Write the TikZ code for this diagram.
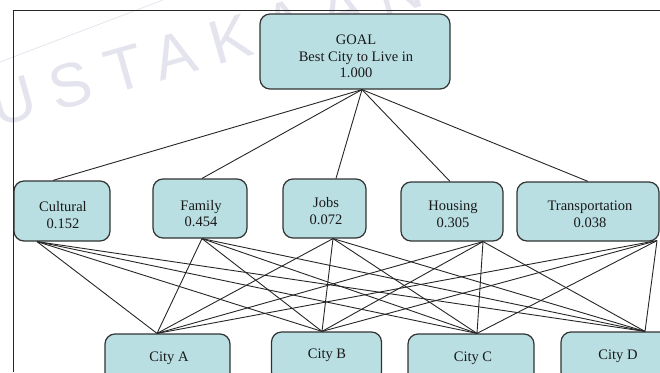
\documentclass[tikz,border=0pt]{standalone}
\usepackage{fontspec}
\setmainfont{Liberation Serif}
\newfontfamily\wmfont[LetterSpace=27]{Liberation Sans}
\definecolor{boxfill}{RGB}{185,223,227}
\definecolor{boxline}{RGB}{50,50,50}
\definecolor{wmcol}{RGB}{228,228,238}
\begin{document}
\begin{tikzpicture}[x=1pt,y=-1pt,
  box/.style={draw=boxline, line width=1.2pt, fill=boxfill, rounded corners=10pt, inner sep=0pt},
  lbl/.style={align=center, font=\fontsize{14.5}{16.5}\selectfont, inner sep=0pt, text=black!90},
  link/.style={draw=black!85, line width=0.9pt},
  frameline/.style={draw=black!85, line width=0.9pt}]
\useasboundingbox (0,0) rectangle (660,372);
\clip (0,0) rectangle (660,372);
% watermark
\node[text=wmcol, font=\wmfont\fontsize{62}{62}\selectfont, rotate=16, anchor=base west, inner sep=0pt] (wm) at (-3,128) {USTAKAAN};
\draw[wmcol, line width=0.8pt] (0,62) -- (163,0);
% frame
\draw[frameline] (13,372) -- (13,10) -- (660,10);
% boxes
\node[box, minimum width=190pt, minimum height=75pt] (goal) at (355,51.5) {};
\node[box, minimum width=96pt, minimum height=60pt] (cult) at (62,211) {};
\node[box, minimum width=94pt, minimum height=59pt] (fam) at (200,208.5) {};
\node[box, minimum width=83pt, minimum height=59pt] (jobs) at (324.5,208.5) {};
\node[box, minimum width=102pt, minimum height=59pt] (hous) at (452,211.5) {};
\node[box, minimum width=142pt, minimum height=59pt] (trans) at (588,211.5) {};
\node[box, minimum width=125pt, minimum height=50pt] (cA) at (167.5,359) {};
\node[box, minimum width=110pt, minimum height=50pt] (cB) at (326.5,357) {};
\node[box, minimum width=126pt, minimum height=50pt] (cC) at (471,359) {};
\node[box, minimum width=114pt, minimum height=50pt] (cD) at (618,357) {};
% texts
\node[lbl] (goalt) at (356,56.7) {GOAL\\Best City to Live in\\1.000};
\node[lbl] (cultt) at (63,215.3) {Cultural\\0.152};
\node[lbl] (famt) at (201,213.5) {Family\\0.454};
\node[lbl] (jobst) at (326,211) {Jobs\\0.072};
\node[lbl] (houst) at (453,214.5) {Housing\\0.305};
\node[lbl] (transt) at (590,214.5) {Transportation\\0.038};
\node[lbl] (cAt) at (169,358.7) {City A};
\node[lbl] (cBt) at (327,355) {City B};
\node[lbl] (cCt) at (473,358.3) {City C};
\node[lbl] (cDt) at (618,356) {City D};
% connection points
\coordinate (goal-b) at ([xshift=7pt]goal.south);
\coordinate (cult-t) at ([xshift=-9pt]cult.north);
\coordinate (fam-t) at ([xshift=2pt]fam.north);
\coordinate (jobs-t) at ([xshift=11.5pt]jobs.north);
\coordinate (hous-t) at ([xshift=-2pt]hous.north);
\coordinate (trans-t) at (trans.north);
\coordinate (cult-b) at ([xshift=-25pt]cult.south);
\coordinate (fam-b) at ([xshift=2pt]fam.south);
\coordinate (jobs-b) at ([xshift=8.5pt]jobs.south);
\coordinate (hous-b) at ([xshift=31pt]hous.south);
\coordinate (trans-b) at ([xshift=69pt,yshift=1pt]trans.south);
\coordinate (cA-t) at ([xshift=-10.5pt]cA.north);
\coordinate (cB-t) at ([xshift=-4.5pt]cB.north);
\coordinate (cC-t) at ([xshift=6pt]cC.north);
\coordinate (cD-t) at ([xshift=27pt]cD.north);
% connectors
\foreach \c in {cult,fam,jobs,hous,trans} \draw[link] (goal-b) -- (\c-t);
\foreach \c in {cult,fam,jobs,hous,trans}
  \foreach \d in {cA,cB,cC,cD} \draw[link] (\c-b) -- (\d-t);
\end{tikzpicture}
\end{document}
